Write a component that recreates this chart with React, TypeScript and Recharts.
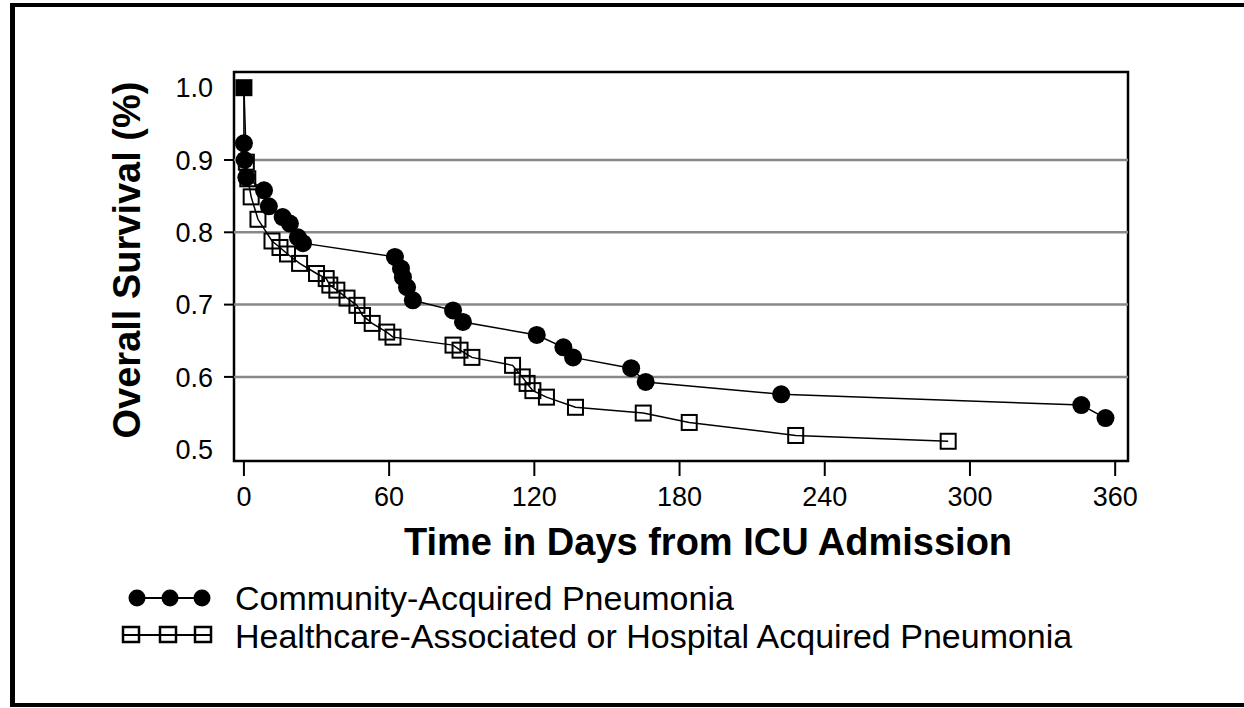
import React from "react";
import { LineChart, Line, XAxis, YAxis, ReferenceLine, ReferenceArea } from "recharts";

// values (days, survival fraction)
const capDays = [0, 0, 0.3, 1, 8.3, 10.3, 16, 19, 22.3, 24.4, 62.4, 64.9, 65.7, 67.4, 69.8, 86.4, 90.5, 121, 132, 136, 160, 166, 222, 346, 356];
const capSurvival = [1.0, 0.923, 0.9, 0.876, 0.858, 0.836, 0.821, 0.812, 0.793, 0.785, 0.766, 0.75, 0.738, 0.724, 0.706, 0.692, 0.676, 0.658, 0.641, 0.627, 0.612, 0.593, 0.576, 0.561, 0.543];

const hcapDays = [0, 1, 1.6, 3, 5.8, 11.6, 14.9, 18, 23, 30, 34, 35.5, 38.4, 42.6, 46.7, 49, 53, 59, 61.6, 86.4, 89.3, 94.2, 111, 115, 117, 119.4, 125, 137, 165, 184, 228, 291];
const hcapSurvival = [1.0, 0.897, 0.874, 0.849, 0.818, 0.788, 0.779, 0.77, 0.757, 0.743, 0.736, 0.727, 0.72, 0.709, 0.699, 0.685, 0.674, 0.662, 0.655, 0.644, 0.637, 0.627, 0.616, 0.6, 0.591, 0.581, 0.572, 0.558, 0.55, 0.537, 0.519, 0.511];

const xTicks = [0, 60, 120, 180, 240, 300, 360];
const yTicks = [0.5, 0.6, 0.7, 0.8, 0.9, 1.0];
const gridValues = [0.6, 0.7, 0.8, 0.9];
const xDomain = [-4.1, 365.3];
const yDomain = [0.4837, 1.0217];

const capName = "Community-Acquired Pneumonia";
const hcapName = "Healthcare-Associated or Hospital Acquired Pneumonia";
const xTitle = "Time in Days from ICU Admission";
const yTitle = "Overall Survival (%)";

const FONT = "'Liberation Sans', Arial, Helvetica, sans-serif";

const capData = capDays.map((d, i) => ({ day: d, survival: capSurvival[i] }));
const hcapData = hcapDays.map((d, i) => ({ day: d, survival: hcapSurvival[i] }));

const circleDot = (props: any) => {
  const { cx, cy, index } = props;
  if (index === 0) return <g key={`c-${index}`} />;
  return <circle key={`c-${index}`} cx={cx} cy={cy} r={9} fill="#000" />;
};

const squareDot = (props: any) => {
  const { cx, cy, index } = props;
  if (index === 0) {
    return <rect key={`s-${index}`} x={cx - 8.5} y={cy - 8.5} width={17} height={17} fill="#000" />;
  }
  return (
    <rect key={`s-${index}`} x={cx - 7.5} y={cy - 7.5} width={15} height={15} fill="none" stroke="#000" strokeWidth={2} />
  );
};

const YTick = (props: any) => {
  const { x, y, payload } = props;
  const v = payload.value;
  return (
    <g>
      {gridValues.includes(v) && <line x1={x + 11} x2={x + 21} y1={y} y2={y} stroke="#000" strokeWidth={2} />}
      <text x={x} y={y} dy="0.36em" textAnchor="end" fontSize={27} fontFamily={FONT} fill="#000">
        {v.toFixed(1)}
      </text>
    </g>
  );
};

const XTick = (props: any) => {
  const { x, y, payload } = props;
  return (
    <text x={x} y={y} dy="0.71em" textAnchor="middle" fontSize={27} fontFamily={FONT} fill="#000">
      {payload.value}
    </text>
  );
};

function Overlay() {
  return (
    <svg width={1244} height={708} style={{ position: "absolute", left: 0, top: 0, pointerEvents: "none" }}>
      <text x={708} y={528} dy="0.71em" textAnchor="middle" fontSize={38} fontWeight="bold" fontFamily={FONT}>
        {xTitle}
      </text>
      <text
        transform="translate(127,260) rotate(-90)"
        textAnchor="middle"
        dominantBaseline="central"
        fontSize={38}
        fontWeight="bold"
        fontFamily={FONT}
      >
        {yTitle}
      </text>
      {/* legend */}
      <g>
        <line x1={137} x2={202} y1={598} y2={598} stroke="#000" strokeWidth={2} />
        {[137, 170, 202].map((cx) => (
          <circle key={cx} cx={cx} cy={598} r={8.5} fill="#000" />
        ))}
        <text x={235} y={598} dominantBaseline="central" fontSize={34} fontFamily={FONT}>
          {capName}
        </text>
        <line x1={131} x2={203} y1={635} y2={635} stroke="#000" strokeWidth={2} />
        {[131, 168, 203].map((cx) => (
          <rect key={cx} x={cx - 8} y={627} width={16} height={15} fill="#fff" stroke="#000" strokeWidth={2.5} />
        ))}
        {[131, 168, 203].map((cx) => (
          <line key={`m${cx}`} x1={cx - 8} x2={cx + 8} y1={635} y2={635} stroke="#000" strokeWidth={2} />
        ))}
        <text x={235} y={636} dominantBaseline="central" fontSize={34} fontFamily={FONT}>
          {hcapName}
        </text>
      </g>
    </svg>
  );
}

export default function App() {
  return (
    <div style={{ position: "absolute", left: 0, top: 0, width: 1244, height: 708, background: "#fff", fontFamily: FONT }}>
      <div
        style={{
          position: "absolute",
          left: 10,
          top: 3,
          width: 1234,
          height: 704,
          boxSizing: "border-box",
          borderTop: "4px solid #000",
          borderLeft: "5px solid #000",
          borderBottom: "4px solid #000",
        }}
      />
      <div style={{ position: "absolute", left: 0, top: 0 }}>
        <LineChart width={1244} height={708} margin={{ top: 72, right: 116, bottom: 187, left: 174 }}>
          <XAxis
            type="number"
            dataKey="day"
            domain={xDomain}
            allowDataOverflow
            ticks={xTicks}
            tick={<XTick />}
            tickSize={15}
            tickMargin={11}
            tickLine={{ stroke: "#000", strokeWidth: 2 }}
            axisLine={false}
            height={60}
            interval={0}
          />
          <YAxis
            type="number"
            domain={yDomain}
            allowDataOverflow
            ticks={yTicks}
            tick={<YTick />}
            tickSize={10}
            tickMargin={11}
            tickLine={false}
            axisLine={false}
            width={60}
            interval={0}
          />
          {gridValues.map((v) => (
            <ReferenceLine key={v} y={v} stroke="#888" strokeWidth={2.5} />
          ))}
          <Line
            data={hcapData}
            dataKey="survival"
            name={hcapName}
            type="linear"
            stroke="#000"
            strokeWidth={1.5}
            dot={squareDot}
            activeDot={false}
            isAnimationActive={false}
          />
          <Line
            data={capData}
            dataKey="survival"
            name={capName}
            type="linear"
            stroke="#000"
            strokeWidth={1.5}
            dot={circleDot}
            activeDot={false}
            isAnimationActive={false}
          />
          <ReferenceArea
            x1={xDomain[0]}
            x2={xDomain[1]}
            y1={yDomain[0]}
            y2={yDomain[1]}
            fill="none"
            stroke="#000"
            strokeWidth={2.5}
            ifOverflow="visible"
          />
        </LineChart>
      </div>
      <Overlay />
    </div>
  );
}
